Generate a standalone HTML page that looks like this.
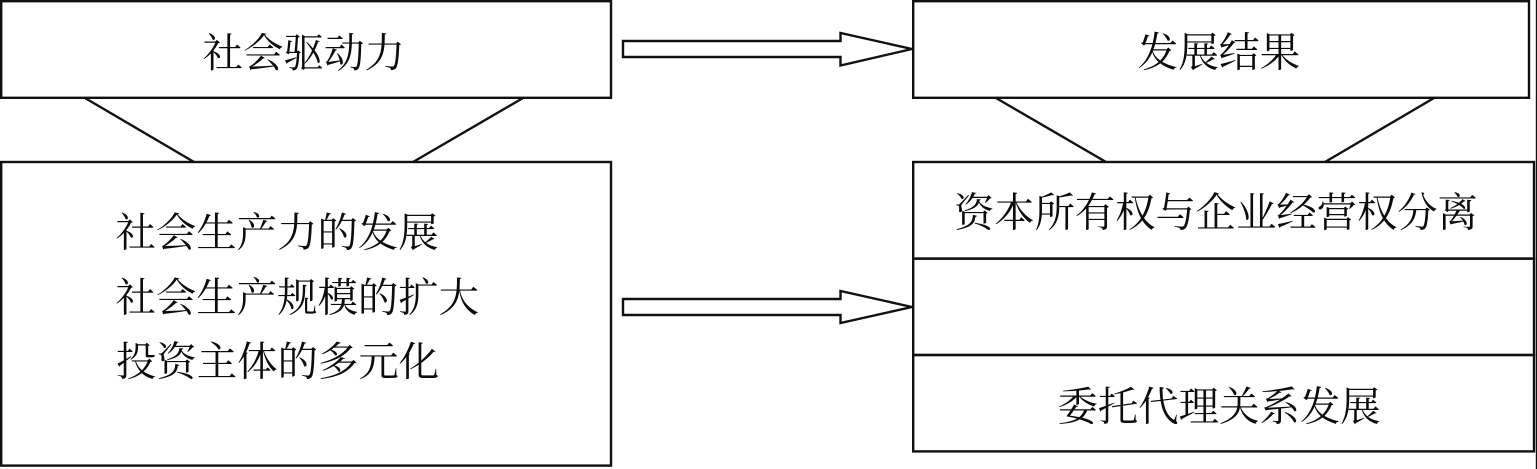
<!DOCTYPE html>
<html><head><meta charset="utf-8">
<style>
html,body{margin:0;padding:0;background:#fff;width:1537px;height:469px;overflow:hidden}
svg{display:block}
text{font-family:"Liberation Serif","Noto Serif CJK SC",serif;font-size:40.4px;fill:#0c0c0c}
</style></head>
<body>
<svg width="1537" height="469" viewBox="0 0 1537 469" xmlns="http://www.w3.org/2000/svg">
<g fill="none" stroke="#111" stroke-width="2.4">
<rect x="1.2" y="1.2" width="609.8" height="96.6"/>
<rect x="1.2" y="162" width="609.8" height="303.6"/>
<rect x="913.2" y="1.2" width="615.8" height="96.6"/>
<rect x="913.2" y="162" width="620.8" height="96.6"/>
<rect x="913.2" y="258.6" width="620.8" height="96.4"/>
<rect x="913.2" y="355" width="620.8" height="96.4"/>
<path d="M85 98L194 162M523 98L413 162M996 98L1106 162M1434 98L1325 162"/>
<path d="M623 41H840.5V33L912 49L840.5 65.5V57H623Z"/>
<path d="M623 299H840.5V291L912 307L840.5 323V315H623Z"/>
</g>
<rect x="1535.8" y="0" width="1.2" height="469" fill="#111"/>
<text x="202.5" y="67" style="font-size:40.5px">社会驱动力</text>
<text x="1137.5" y="66.5" style="font-size:40.7px">发展结果</text>
<text x="115.5" y="246.5">社会生产力的发展</text>
<text x="115.5" y="311.5">社会生产规模的扩大</text>
<text x="116" y="375.5">投资主体的多元化</text>
<text x="954" y="226.5" style="font-size:40.3px">资本所有权与企业经营权分离</text>
<text x="1057.5" y="420.5">委托代理关系发展</text>
</svg>
</body></html>
